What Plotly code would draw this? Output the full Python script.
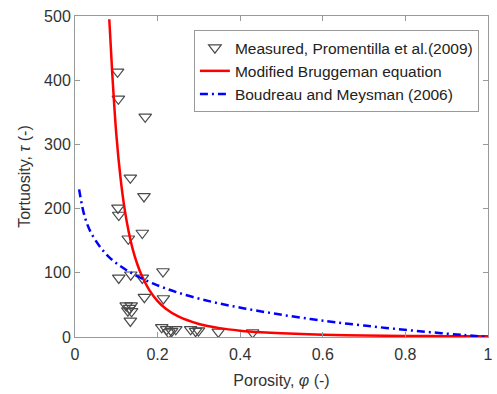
import plotly.graph_objects as go

# Measured data (porosity, tortuosity)
meas_phi = [0.103, 0.105, 0.170, 0.134, 0.167, 0.104, 0.106, 0.163, 0.129, 0.213,
            0.106, 0.135, 0.163, 0.168, 0.214, 0.124, 0.132, 0.136, 0.128, 0.137,
            0.134, 0.210, 0.222, 0.234, 0.244, 0.227, 0.280, 0.292, 0.299, 0.347, 0.430]
meas_tau = [413, 371, 343, 248, 219, 201, 190, 162, 153, 102,
            92, 97, 92, 62, 60, 49, 45, 49, 41, 40,
            25, 15, 12, 9, 12, 7, 12, 9, 10, 8, 7]

# Modified Bruggeman equation curve
brug_phi = [0.083, 0.09, 0.10, 0.11, 0.12, 0.13, 0.14, 0.15, 0.16, 0.18, 0.20, 0.22,
            0.25, 0.30, 0.35, 0.40, 0.45, 0.50, 0.60, 0.70, 0.80, 0.90, 1.00]
brug_tau = [495, 413, 316, 249, 200, 164, 136, 115, 98, 73, 56, 44,
            32, 20.3, 13.8, 9.9, 7.4, 5.7, 3.6, 2.4, 1.75, 1.3, 1.0]

# Boudreau and Meysman (2006) curve
boud_phi = [0.01, 0.02, 0.03, 0.04, 0.06, 0.08, 0.10, 0.125, 0.15, 0.19, 0.25, 0.33,
            0.41, 0.49, 0.57, 0.63, 0.70, 0.78, 0.86, 0.94, 1.00]
boud_tau = [230, 196, 175, 161, 141, 126, 115, 104, 95, 83, 69, 55,
            44.5, 35.7, 28, 23, 17.8, 12.4, 7.5, 3.1, 0]

axis_col = "#9a9a9a"
txt_col = "#333333"
font_fam = "Liberation Sans, Arial, sans-serif"

fig = go.Figure()
fig.add_trace(go.Scatter(
    x=meas_phi, y=meas_tau, mode="markers",
    name="Measured, Promentilla et al.(2009)",
    marker=dict(symbol="triangle-down-open", size=11, color="#4a4a4a",
                line=dict(width=1.2, color="#4a4a4a"))))
fig.add_trace(go.Scatter(
    x=brug_phi, y=brug_tau, mode="lines", name="Modified Bruggeman equation",
    line=dict(color="#ff0000", width=2.5, shape="spline")))
fig.add_trace(go.Scatter(
    x=boud_phi, y=boud_tau, mode="lines", name="Boudreau and Meysman (2006)",
    line=dict(color="#0000ff", width=2.5, dash="8px,4px,2px,4px", shape="spline")))

axis_common = dict(
    showline=True, linecolor=axis_col, linewidth=1, mirror="ticks",
    ticks="inside", ticklen=5, tickcolor=axis_col, tickwidth=1,
    showgrid=False, zeroline=False, ticklabeloverflow="allow",
    tickfont=dict(family=font_fam, size=16, color=txt_col),
)

fig.update_layout(
    width=497, height=394,
    margin=dict(l=75, r=4, t=16, b=57),
    paper_bgcolor="white", plot_bgcolor="white",
    font=dict(family=font_fam, size=16, color=txt_col),
    showlegend=True,
    legend=dict(x=0.978, y=0.956, xanchor="right", yanchor="top",
                bgcolor="white", bordercolor=axis_col, borderwidth=1,
                font=dict(family=font_fam, size=15.5, color="#222"),
                itemwidth=30, tracegroupgap=0),
    xaxis=dict(range=[0, 1], tickvals=[0, 0.2, 0.4, 0.6, 0.8, 1],
               ticktext=["0", "0.2", "0.4", "0.6", "0.8", "1"],
               ticklabelstandoff=3,
               title=dict(text="Porosity, <i>\u03c6</i> (-)", standoff=12,
                          font=dict(family=font_fam, size=16, color=txt_col)),
               **axis_common),
    yaxis=dict(range=[0, 500], tickvals=[0, 100, 200, 300, 400, 500],
               title=dict(text="Tortuosity, <i>\u03c4</i> (-)", standoff=9,
                          font=dict(family=font_fam, size=16, color=txt_col)),
               **axis_common),
)

fig.write_html("out.html")
